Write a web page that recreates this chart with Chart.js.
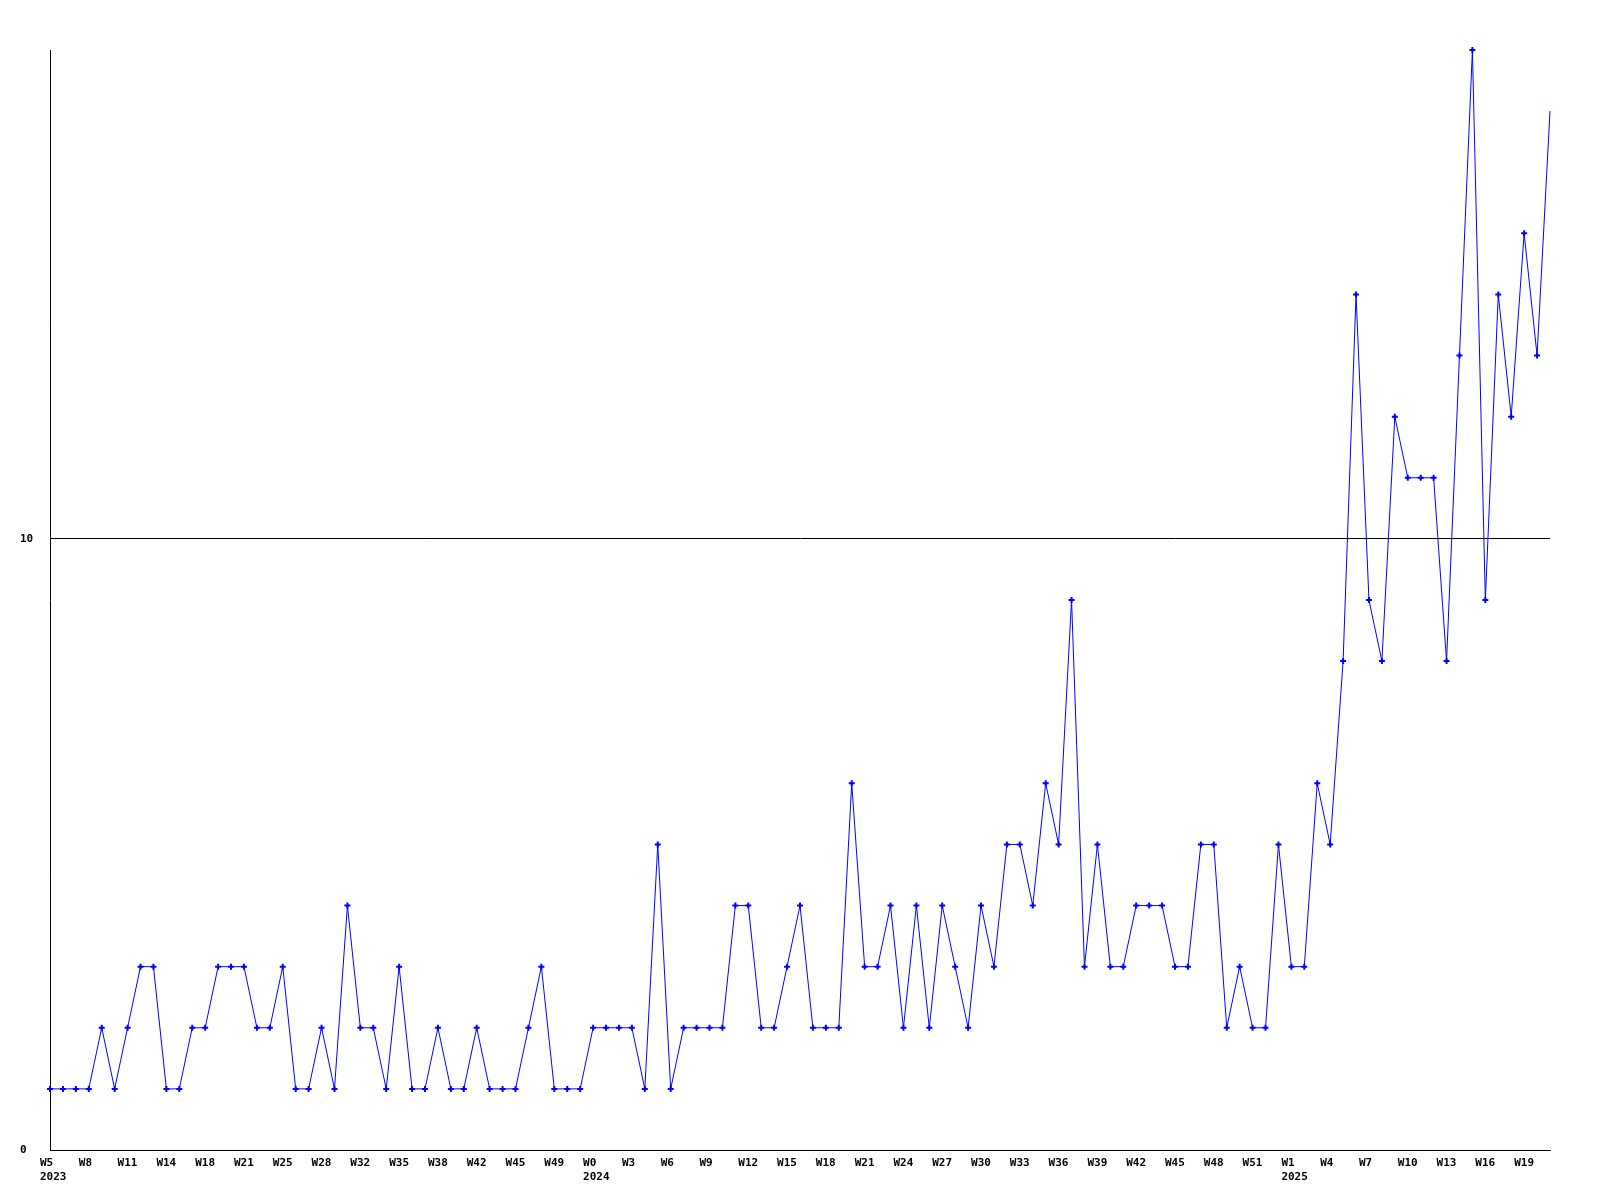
<!DOCTYPE html>
<html>
<head>
<meta charset="utf-8">
<title>Weekly counts</title>
<script src="https://cdn.jsdelivr.net/npm/chart.js@4/dist/chart.umd.min.js"></script>
<style>
  html, body { margin: 0; padding: 0; background: #fff; }
  canvas { display: block; }
</style>
</head>
<body>
<canvas id="weeklyChart" width="1600" height="1200"></canvas>
<script>
// one value per week
const counts = [
  1, 1, 1, 1, 2, 1, 2, 3, 3, 1, 1, 2, 2, 3, 3, 3, 2, 2, 3, 1,
  1, 2, 1, 4, 2, 2, 1, 3, 1, 1, 2, 1, 1, 2, 1, 1, 1, 2, 3, 1,
  1, 1, 2, 2, 2, 2, 1, 5, 1, 2, 2, 2, 2, 4, 4, 2, 2, 3, 4, 2,
  2, 2, 6, 3, 3, 4, 2, 4, 2, 4, 3, 2, 4, 3, 5, 5, 4, 6, 5, 9,
  3, 5, 3, 3, 4, 4, 4, 3, 3, 5, 5, 2, 3, 2, 2, 5, 3, 3, 6, 5,
  8, 14, 9, 8, 12, 11, 11, 11, 8, 13, 18, 9, 14, 12, 15, 13, 17
];

// a week label is printed under every third point
const weekTicks = [
  'W5', 'W8', 'W11', 'W14', 'W18', 'W21', 'W25', 'W28', 'W32', 'W35',
  'W38', 'W42', 'W45', 'W49', 'W0', 'W3', 'W6', 'W9', 'W12', 'W15',
  'W18', 'W21', 'W24', 'W27', 'W30', 'W33', 'W36', 'W39', 'W42', 'W45',
  'W48', 'W51', 'W1', 'W4', 'W7', 'W10', 'W13', 'W16', 'W19'
];
const yearTickIdx = [0, 14, 32];
const years = ['2023', '2024', '2025'];

const yTicks = [0, 10];
const yMax = 18;

const categories = counts.map((v, i) => {
  if (i % 3 !== 0) return '';
  const k = i / 3;
  const y = yearTickIdx.indexOf(k);
  return y >= 0 ? [weekTicks[k], years[y]] : weekTicks[k];
});

const tickFont = { family: '"DejaVu Sans Mono", "Liberation Mono", monospace', size: 11, weight: 'bold', lineHeight: '14px' };

new Chart(document.getElementById('weeklyChart'), {
  type: 'line',
  data: {
    labels: categories,
    datasets: [{
      data: counts,
      borderColor: '#0000ff',
      backgroundColor: '#0000ff',
      borderWidth: 1,
      tension: 0,
      fill: false,
      pointStyle: 'cross',
      pointRadius: ctx => ctx.dataIndex === counts.length - 1 ? 0 : 3,
      pointBorderWidth: 2,
      pointBorderColor: '#0000ff',
      clip: 4
    }]
  },
  options: {
    responsive: false,
    animation: false,
    devicePixelRatio: 1,
    layout: { padding: { left: 20, right: 50, top: 50, bottom: 0 } },
    plugins: { legend: { display: false }, tooltip: { enabled: false } },
    scales: {
      x: {
        grid: { display: false, drawTicks: false },
        border: { display: true, color: '#000', width: 1 },
        ticks: {
          autoSkip: false, maxRotation: 0, minRotation: 0,
          align: 'start', labelOffset: -10, padding: 6,
          color: '#000', font: tickFont
        },
        afterFit: s => { s.height = 50; }
      },
      y: {
        min: 0, max: yMax,
        afterBuildTicks: s => { s.ticks = yTicks.map(v => ({ value: v })); },
        grid: { color: '#000', lineWidth: 1, drawTicks: false },
        border: { display: true, color: '#000', width: 1 },
        ticks: { crossAlign: 'far', padding: 4, color: '#000', font: tickFont },
        afterFit: s => { s.width = 30; }
      }
    }
  }
});
</script>
</body>
</html>
